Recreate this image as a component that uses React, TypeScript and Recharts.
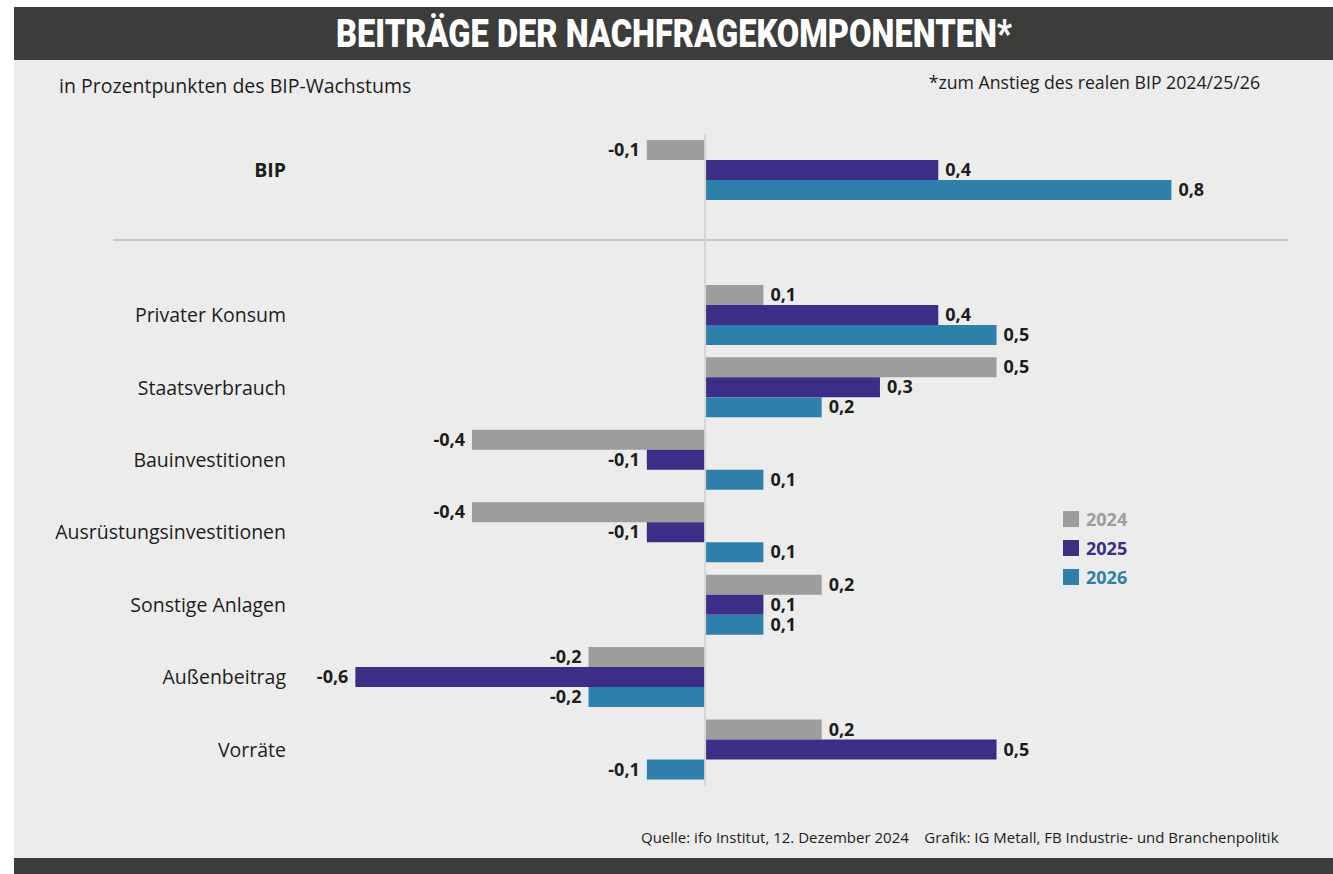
import React from "react";
import { BarChart, Bar, XAxis, YAxis, ReferenceLine, LabelList } from "recharts";

// categories (the empty one is the gap under BIP where the divider sits)
const categories = [
  "BIP",
  " ",
  "Privater Konsum",
  "Staatsverbrauch",
  "Bauinvestitionen",
  "Ausrüstungsinvestitionen",
  "Sonstige Anlagen",
  "Außenbeitrag",
  "Vorräte",
];

const values2024 = [-0.1, null, 0.1, 0.5, -0.4, -0.4, 0.2, -0.2, 0.2];
const values2025 = [0.4, null, 0.4, 0.3, -0.1, -0.1, 0.1, -0.6, 0.5];
const values2026 = [0.8, null, 0.5, 0.2, 0.1, 0.1, 0.1, -0.2, -0.1];

const seriesNames = ["2024", "2025", "2026"];
const colors = ["#9d9d9c", "#3c2e86", "#2e80ab"];

const data = categories.map((name, i) => ({
  name,
  y2024: values2024[i],
  y2025: values2025[i],
  y2026: values2026[i],
}));

const font = "'Open Sans', 'Noto Sans', sans-serif";
const ink = "#1d1d1b";

const fmt = (v: number) => v.toFixed(1).replace(".", ",");

const ValueLabel = (props: any) => {
  const { x, y, width, height, value } = props;
  if (value === null || value === undefined) return null;
  const left = Math.min(x, x + width);
  const right = Math.max(x, x + width);
  const pos = value >= 0;
  return (
    <text
      x={pos ? right + 7 : left - 7}
      y={y + height / 2 + 6}
      textAnchor={pos ? "start" : "end"}
      fontFamily={font}
      fontWeight={700}
      fontSize={18}
      fill={ink}
    >
      {fmt(value)}
    </text>
  );
};

const CategoryTick = (props: any) => {
  const { x, y, payload } = props;
  const bold = payload.value === "BIP";
  return (
    <text
      x={x}
      y={y + 7}
      textAnchor="end"
      fontFamily={font}
      fontSize={19.5}
      fontWeight={bold ? 700 : 400}
      fill={ink}
    >
      {payload.value}
    </text>
  );
};

const App = () => (
  <div style={{ position: "absolute", left: 0, top: 0, width: 1333, height: 874, background: "#fff", overflow: "hidden" }}>
    {/* panel */}
    <div style={{ position: "absolute", left: 14, top: 60, width: 1319, height: 798, background: "#ececec" }} />
    {/* title bar */}
    <div style={{ position: "absolute", left: 14, top: 7, width: 1319, height: 53, background: "#3c3c3a" }} />
    <svg style={{ position: "absolute", left: 0, top: 0 }} width={1333} height={60}>
      <text
        x={336}
        y={47}
        textLength={676}
        lengthAdjust="spacingAndGlyphs"
        fontFamily="'Roboto', 'DejaVu Sans', sans-serif"
        fontWeight={900}
        fontSize={38}
        fill="#fff"
      >
        BEITRÄGE DER NACHFRAGEKOMPONENTEN*
      </text>
    </svg>
    <div style={{ position: "absolute", left: 59, top: 72, fontFamily: font, fontSize: 19.5, color: ink }}>
      in Prozentpunkten des BIP-Wachstums
    </div>
    <div style={{ position: "absolute", right: 1333 - 1260, top: 70, fontFamily: font, fontSize: 17.7, color: ink }}>
      *zum Anstieg des realen BIP 2024/25/26
    </div>
    {/* divider under BIP */}
    <div style={{ position: "absolute", left: 113, top: 239, width: 1175, height: 2, background: "#c8c8c8" }} />
    <div style={{ position: "absolute", left: 0, top: 0 }}>
      <BarChart
        width={1333}
        height={820}
        data={data}
        layout="vertical"
        margin={{ top: 134, right: 45, bottom: 34, left: 14 }}
        barSize={20}
        barGap={0}
      >
        <XAxis type="number" domain={[-0.695, 1.0]} hide allowDataOverflow />
        <YAxis
          type="category"
          dataKey="name"
          width={286}
          axisLine={false}
          tickLine={false}
          tickSize={0}
          tickMargin={14}
          interval={0}
          tick={<CategoryTick />}
        />
        <ReferenceLine x={0} stroke="#d6d6d6" strokeWidth={2} />
        <Bar dataKey="y2024" name="2024" fill={colors[0]} isAnimationActive={false}>
          <LabelList dataKey="y2024" content={<ValueLabel />} />
        </Bar>
        <Bar dataKey="y2025" name="2025" fill={colors[1]} isAnimationActive={false}>
          <LabelList dataKey="y2025" content={<ValueLabel />} />
        </Bar>
        <Bar dataKey="y2026" name="2026" fill={colors[2]} isAnimationActive={false}>
          <LabelList dataKey="y2026" content={<ValueLabel />} />
        </Bar>
      </BarChart>
    </div>
    {/* legend */}
    <div style={{ position: "absolute", left: 1063, top: 504, fontFamily: font, fontWeight: 700, fontSize: 18 }}>
      {seriesNames.map((s, i) => (
        <div key={s} style={{ display: "flex", alignItems: "center", height: 29 }}>
          <div style={{ width: 16, height: 16, background: colors[i], marginRight: 7 }} />
          <span style={{ color: colors[i] }}>{s}</span>
        </div>
      ))}
    </div>
    <div style={{ position: "absolute", left: 641, top: 827, fontFamily: font, fontSize: 15, color: ink, whiteSpace: "pre" }}>
      {"Quelle: ifo Institut, 12. Dezember 2024    Grafik: IG Metall, FB Industrie- und Branchenpolitik"}
    </div>
    {/* bottom bar */}
    <div style={{ position: "absolute", left: 14, top: 858, width: 1319, height: 16, background: "#3c3c3a" }} />
  </div>
);

export default App;
